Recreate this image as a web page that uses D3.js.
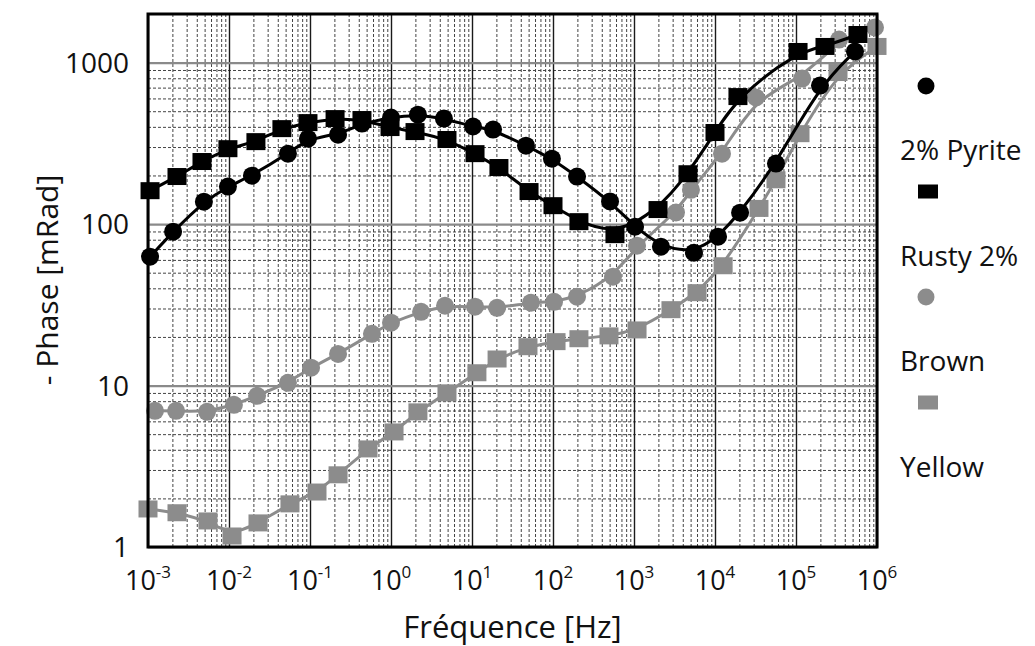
<!DOCTYPE html>
<html>
<head>
<meta charset="utf-8">
<script src="https://cdn.jsdelivr.net/npm/d3@7"></script>
<style>
  html, body { margin: 0; padding: 0; background: #fff; }
  svg text { font-family: "Open Sans", "Liberation Sans", sans-serif; fill: #111; }
</style>
</head>
<body>
<svg id="chart" width="1035" height="646"></svg>
<script>
// frequency [Hz] and phase [mRad]
var pyriteFreq = [1.06e-3, 2.04e-3, 4.9e-3, 9.7e-3, 0.0192, 0.0534, 0.0944, 0.222, 0.438, 1.0, 2.15, 4.5, 10.3, 18.2, 46.4, 97, 198, 506, 1030, 2150, 5500, 10900, 20400, 56600, 197800, 535000];
var pyritePhase = [62.8, 89.7, 137.7, 170.6, 199.5, 273, 338, 358, 419, 457, 476, 450, 402, 385, 306, 254, 197, 138, 96.4, 72.4, 66.5, 83.5, 117.7, 237, 721, 1172];

var rustyFreq = [1.06e-3, 2.28e-3, 4.64e-3, 9.7e-3, 0.0215, 0.045, 0.0944, 0.204, 0.438, 0.973, 1.98, 4.91, 10.9, 21.5, 50.6, 100, 209, 582, 1980, 4640, 10000, 19200, 106000, 228000, 582000];
var rustyPhase = [161, 197, 244, 293, 324, 390, 425, 450, 444, 396, 374, 334, 273, 224, 159, 130, 103.5, 86, 123, 205, 369, 616, 1172, 1259, 1493];

var brownFreq = [1.22e-3, 2.22e-3, 5.35e-3, 0.0115, 0.0222, 0.0534, 0.103, 0.222, 0.582, 1.0, 2.35, 4.64, 10.9, 20.4, 53.5, 103, 198, 550, 1090, 3300, 5050, 12200, 32100, 119000, 340000, 944000];
var brownPhase = [6.97, 6.97, 6.87, 7.59, 8.63, 10.4, 12.9, 15.7, 20.9, 24.5, 28.6, 31.2, 30.8, 30.3, 32.6, 33.0, 35.5, 47.2, 73.5, 118, 163, 273, 608, 797, 1390, 1650];

var yellowFreq = [1e-3, 2.28e-3, 5.5e-3, 0.0109, 0.0228, 0.0566, 0.122, 0.222, 0.52, 1.09, 2.15, 4.91, 11.5, 20.4, 49.1, 109, 209, 491, 1090, 2860, 6000, 12600, 34900, 56600, 112000, 330000, 1e6];
var yellowPhase = [1.72, 1.63, 1.45, 1.17, 1.41, 1.85, 2.19, 2.80, 4.05, 5.16, 6.87, 9.01, 12.0, 14.6, 17.4, 18.7, 19.5, 20.3, 22.1, 29.5, 37.6, 55.2, 125, 188, 363, 868, 1259];

var seriesNames = ['2% Pyrite', 'Rusty 2%', 'Brown', 'Yellow'];
var xDecades = [-3, -2, -1, 0, 1, 2, 3, 4, 5, 6];
var yTickValues = [1, 10, 100, 1000];

var margin = { left: 148, top: 14, right: 158, bottom: 99 };
var width = 1035 - margin.left - margin.right;
var height = 646 - margin.top - margin.bottom;

var svg = d3.select('#chart');
var g = svg.append('g').attr('transform', 'translate(' + margin.left + ',' + margin.top + ')');

var x = d3.scaleLog().domain([1e-3, 1e6]).range([0, width]);
var y = d3.scaleLog().domain([1, 2000]).range([height, 0]);

function isDecade(d) {
    return Math.abs(Math.log10(d) - Math.round(Math.log10(d))) < 1e-6;
}

// minor grid (2..9 in each decade), dashed
var xMinor = x.ticks().filter(function (d) { return !isDecade(d); });
var yMinor = y.ticks().filter(function (d) { return !isDecade(d) && d < 2000; });

var gx = g.append('g')
    .attr('transform', 'translate(0,' + height + ')')
    .call(d3.axisBottom(x).tickValues(xMinor).tickSize(-height).tickFormat(''));
gx.select('.domain').remove();
gx.selectAll('.tick line').attr('stroke', '#444').attr('stroke-width', 1).attr('stroke-dasharray', '3,2');

var gy = g.append('g')
    .call(d3.axisLeft(y).tickValues(yMinor).tickSize(-width).tickFormat(''));
gy.select('.domain').remove();
gy.selectAll('.tick line').attr('stroke', '#444').attr('stroke-width', 1).attr('stroke-dasharray', '3,2');

// major grid
var gxMaj = g.append('g')
    .attr('transform', 'translate(0,' + height + ')')
    .call(d3.axisBottom(x).tickValues(xDecades.map(function (e) { return Math.pow(10, e); })).tickSize(-height).tickFormat(''));
gxMaj.select('.domain').remove();
gxMaj.selectAll('.tick line').attr('stroke', '#1a1a1a').attr('stroke-width', 1.4);

var gyMaj = g.append('g')
    .call(d3.axisLeft(y).tickValues(yTickValues).tickSize(-width).tickFormat(''));
gyMaj.select('.domain').remove();
gyMaj.selectAll('.tick line').attr('stroke', '#8a8a8a').attr('stroke-width', 2.2);

// x tick labels 10^n
g.append('g').selectAll('text')
    .data(xDecades)
    .enter().append('text')
    .attr('x', function (d) { return x(Math.pow(10, d)); })
    .attr('y', height + 43)
    .attr('text-anchor', 'middle')
    .style('font-size', '27px')
    .each(function (d) {
        var t = d3.select(this);
        t.append('tspan').text('10');
        t.append('tspan').attr('dy', -12).style('font-size', '17px').text(d);
    });

// y tick labels
g.append('g').selectAll('text')
    .data(yTickValues)
    .enter().append('text')
    .attr('x', -19)
    .attr('y', function (d) { return y(d); })
    .attr('dy', '0.36em')
    .attr('text-anchor', 'end')
    .style('font-size', '28px')
    .text(function (d) { return d; });

// axis titles
svg.append('text')
    .attr('x', margin.left + width / 2)
    .attr('y', 638)
    .attr('text-anchor', 'middle')
    .style('font-size', '31px')
    .text('Fréquence [Hz]');

svg.append('text')
    .attr('transform', 'translate(58,' + (margin.top + 266) + ') rotate(-90)')
    .attr('text-anchor', 'middle')
    .style('font-size', '30px')
    .text('- Phase [mRad]');

// series
var black = '#000';
var grey = '#8c8c8c';
var series = [
    { name: seriesNames[2], freq: brownFreq, phase: brownPhase, color: grey, shape: 'circle' },
    { name: seriesNames[3], freq: yellowFreq, phase: yellowPhase, color: grey, shape: 'square' },
    { name: seriesNames[0], freq: pyriteFreq, phase: pyritePhase, color: black, shape: 'circle' },
    { name: seriesNames[1], freq: rustyFreq, phase: rustyPhase, color: black, shape: 'square' }
];

var line = d3.line()
    .x(function (d) { return x(d[0]); })
    .y(function (d) { return y(d[1]); })
    .curve(d3.curveBasis);

series.forEach(function (s) {
    var pts = s.freq.map(function (f, i) { return [f, s.phase[i]]; });
    var sg = g.append('g');
    sg.append('path')
        .datum(pts)
        .attr('d', line)
        .attr('fill', 'none')
        .attr('stroke', s.color)
        .attr('stroke-width', 3);
    if (s.shape === 'circle') {
        sg.selectAll('circle').data(pts).enter().append('circle')
            .attr('cx', function (d) { return x(d[0]); })
            .attr('cy', function (d) { return y(d[1]); })
            .attr('r', 9)
            .attr('fill', s.color);
    } else {
        sg.selectAll('rect').data(pts).enter().append('rect')
            .attr('x', function (d) { return x(d[0]) - 9.5; })
            .attr('y', function (d) { return y(d[1]) - 8.5; })
            .attr('width', 19)
            .attr('height', 17)
            .attr('fill', s.color);
    }
});

// frame
g.append('rect')
    .attr('x', 0).attr('y', 0)
    .attr('width', width).attr('height', height)
    .attr('fill', 'none')
    .attr('stroke', '#000')
    .attr('stroke-width', 3);

// legend: marker above each label
var legend = svg.append('g');
var legendItems = [
    { name: seriesNames[0], color: black, shape: 'circle' },
    { name: seriesNames[1], color: black, shape: 'square' },
    { name: seriesNames[2], color: grey, shape: 'circle' },
    { name: seriesNames[3], color: grey, shape: 'square' }
];
legendItems.forEach(function (d, i) {
    var top = 86 + i * 105.5;
    if (d.shape === 'circle') {
        legend.append('circle').attr('cx', 926).attr('cy', top).attr('r', 8.5).attr('fill', d.color);
    } else {
        legend.append('rect').attr('x', 918).attr('y', top - 7).attr('width', 20).attr('height', 14).attr('fill', d.color);
    }
    legend.append('text')
        .attr('x', 900)
        .attr('y', top + 74)
        .style('font-size', '28px')
        .text(d.name);
});
</script>
</body>
</html>
